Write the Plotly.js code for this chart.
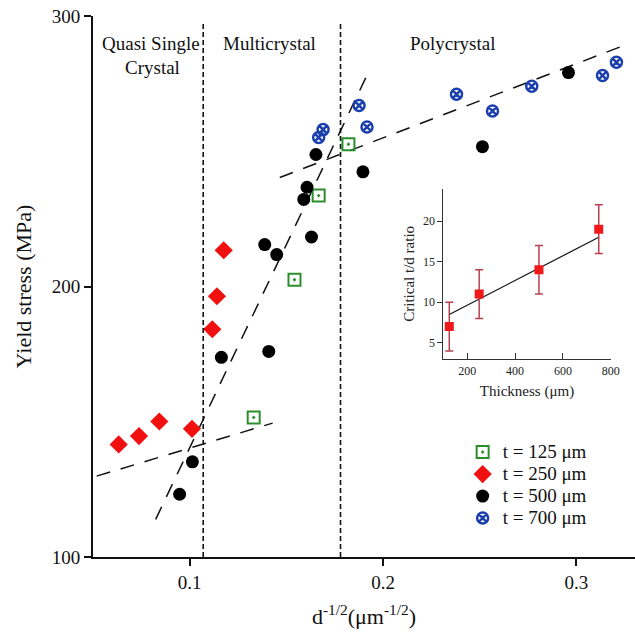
<!DOCTYPE html>
<html>
<head>
<meta charset="utf-8">
<script src="https://cdn.plot.ly/plotly-2.35.2.min.js"></script>
<style>
  html, body { margin: 0; padding: 0; background: #fff; }
  #chart { width: 635px; height: 633px; }
</style>
</head>
<body>
<div id="chart"></div>
<script>
// Yield stress vs d^-1/2 for four sample thicknesses
const t125X = [0.1331, 0.1542, 0.1667, 0.1821];
const t125Y = [151.6, 202.5, 233.6, 252.6];

const t250X = [0.0633, 0.0738, 0.0843, 0.1012, 0.1117, 0.1141, 0.1176];
const t250Y = [141.6, 144.7, 150.1, 147.4, 184.2, 196.4, 213.4];

const t500X = [0.0948, 0.1014, 0.1164, 0.1409, 0.1388, 0.1450, 0.1630, 0.1590, 0.1607, 0.1653, 0.1896, 0.2514, 0.2959];
const t500Y = [123.2, 135.2, 173.8, 176.0, 215.5, 211.8, 218.3, 232.2, 236.7, 248.8, 242.4, 251.7, 279.1];

const t700X = [0.1667, 0.1690, 0.1876, 0.1917, 0.2380, 0.2566, 0.2769, 0.3135, 0.3207];
const t700Y = [255.1, 258.0, 266.9, 259.0, 271.1, 264.9, 274.0, 278.0, 282.9];

// Dashed trend lines for the three regimes
const fitSingleX = [0.0519, 0.1429];
const fitSingleY = [129.9, 149.5];
const fitMultiX = [0.0824, 0.1914];
const fitMultiY = [113.9, 277.7];
const fitPolyX = [0.1466, 0.3260];
const fitPolyY = [240.3, 289.5];

// Regime boundaries and labels
const boundaries = [0.107, 0.178];
const regimeLabels = ["Quasi Single", "Crystal", "Multicrystal", "Polycrystal"];
const regimeLabelX = [0.0802, 0.0810, 0.1414, 0.2362];
const regimeLabelY = [289.8, 280.9, 289.8, 289.8];

// Inset: critical t/d ratio vs thickness
const insetThickness = [125, 250, 500, 750];
const insetRatio = [7, 11, 14, 19];
const insetErr = [3, 3, 3, 3];
const insetFitX = [125, 750];
const insetFitY = [8.5, 18.0];

const legendNames = ["t = 125 \u03bcm", "t = 250 \u03bcm", "t = 500 \u03bcm", "t = 700 \u03bcm"];

const serif = "Liberation Serif, Times New Roman, serif";
const dashPattern = "14px,11px";
// legend rows stay compact while the label text is set larger
const legendLabel = s => '<span style="font-size:19px">' + s + '</span>';

const traces = [
  { x: fitSingleX, y: fitSingleY, mode: "lines", showlegend: false, hoverinfo: "skip",
    line: { color: "#111", width: 1.5, dash: dashPattern } },
  { x: fitMultiX, y: fitMultiY, mode: "lines", showlegend: false, hoverinfo: "skip",
    line: { color: "#111", width: 1.5, dash: dashPattern } },
  { x: fitPolyX, y: fitPolyY, mode: "lines", showlegend: false, hoverinfo: "skip",
    line: { color: "#111", width: 1.5, dash: dashPattern } },
  { x: t125X, y: t125Y, mode: "markers", name: legendLabel(legendNames[0]),
    marker: { symbol: "square-open-dot", size: 12, color: "#2a8f2a", line: { width: 2, color: "#2a8f2a" } } },
  { x: t250X, y: t250Y, mode: "markers", name: legendLabel(legendNames[1]),
    marker: { symbol: "diamond", size: 14, color: "#f01010" } },
  { x: t500X, y: t500Y, mode: "markers", name: legendLabel(legendNames[2]),
    marker: { symbol: "circle", size: 13, color: "#000" } },
  { x: t700X, y: t700Y, mode: "markers", name: legendLabel(legendNames[3]),
    marker: { symbol: "circle-x-open", size: 11, color: "#1c3fae", line: { width: 2.5, color: "#1c3fae" } } },
  // inset
  { x: insetFitX, y: insetFitY, xaxis: "x2", yaxis: "y2", mode: "lines", showlegend: false,
    line: { color: "#111", width: 1.2 } },
  { x: insetThickness, y: insetRatio, xaxis: "x2", yaxis: "y2", mode: "markers", showlegend: false,
    marker: { symbol: "square", size: 9, color: "#f01818" },
    error_y: { type: "data", array: insetErr, visible: true, color: "#b8404e", thickness: 1.5, width: 4 } }
];

const shapes = boundaries.map(b => ({
  type: "line", xref: "x", yref: "paper", x0: b, x1: b, y0: 0, y1: 0.986,
  line: { color: "#111", width: 1.6, dash: "5px,3px" }
}));

const annotations = regimeLabels.map((t, i) => ({
  text: t, x: regimeLabelX[i], y: regimeLabelY[i], xref: "x", yref: "y",
  showarrow: false, xanchor: "center", yanchor: "middle",
  font: { family: serif, size: 19, color: "#111" }
}));

const layout = {
  width: 635, height: 633,
  margin: { l: 93, r: 0, t: 16, b: 76 },
  paper_bgcolor: "#fff", plot_bgcolor: "rgba(0,0,0,0)",
  font: { family: serif, color: "#111" },
  showlegend: true,
  legend: {
    x: 0.682, y: 0.2235, xanchor: "left", yanchor: "top",
    bgcolor: "rgba(0,0,0,0)", font: { family: serif, size: 14.6, color: "#111" }
  },
  xaxis: {
    range: [0.05, 0.3303], showgrid: false, zeroline: false,
    showline: true, linecolor: "#111", linewidth: 2,
    ticks: "outside", ticklen: 7, tickwidth: 2, tickcolor: "#111",
    tickvals: [0.1, 0.2, 0.3], ticktext: ["0.1", "0.2", "0.3"],
    tickfont: { family: serif, size: 19, color: "#111" },
    title: { text: "d<sup>-1/2</sup>(\u03bcm<sup>-1/2</sup>)", standoff: 17,
      font: { family: serif, size: 22, color: "#111" } }
  },
  yaxis: {
    range: [100, 300], showgrid: false, zeroline: false,
    showline: true, linecolor: "#111", linewidth: 2,
    ticks: "outside", ticklen: 7, tickwidth: 2, tickcolor: "#111",
    tickvals: [100, 200, 300],
    tickfont: { family: serif, size: 19, color: "#111" },
    title: { text: "Yield stress (MPa)", standoff: 14,
      font: { family: serif, size: 22, color: "#111" } }
  },
  // inward halves of the crossing tick marks
  xaxis3: {
    overlaying: "x", anchor: "y", range: [0.05, 0.3303], showgrid: false, zeroline: false,
    showline: false, ticks: "inside", ticklen: 7, tickwidth: 2, tickcolor: "#111",
    tickvals: [0.1, 0.2, 0.3], showticklabels: false
  },
  yaxis3: {
    overlaying: "y", anchor: "x", range: [100, 300], showgrid: false, zeroline: false,
    showline: false, ticks: "inside", ticklen: 7, tickwidth: 2, tickcolor: "#111",
    tickvals: [100, 200, 300], showticklabels: false
  },
  xaxis2: {
    domain: [0.6463, 0.9552], anchor: "y2", range: [100, 800],
    showgrid: false, zeroline: false, showline: true, linecolor: "#333", linewidth: 1,
    ticks: "inside", ticklen: 6, tickcolor: "#333", tickvals: [200, 400, 600, 800],
    tickfont: { family: serif, size: 12, color: "#222" },
    title: { text: "Thickness (\u03bcm)", standoff: 8, font: { family: serif, size: 15, color: "#222" } }
  },
  yaxis2: {
    domain: [0.3658, 0.6811], anchor: "x2", range: [3, 24],
    showgrid: false, zeroline: false, showline: true, linecolor: "#333", linewidth: 1,
    ticks: "outside", ticklen: 5, tickcolor: "#333", tickvals: [5, 10, 15, 20],
    tickfont: { family: serif, size: 12, color: "#222" },
    title: { text: "Critical t/d ratio", standoff: 4, font: { family: serif, size: 15, color: "#222" } }
  },
  shapes: shapes,
  annotations: annotations
};

Plotly.newPlot("chart", traces, layout, { displayModeBar: false, staticPlot: true });
</script>
</body>
</html>
